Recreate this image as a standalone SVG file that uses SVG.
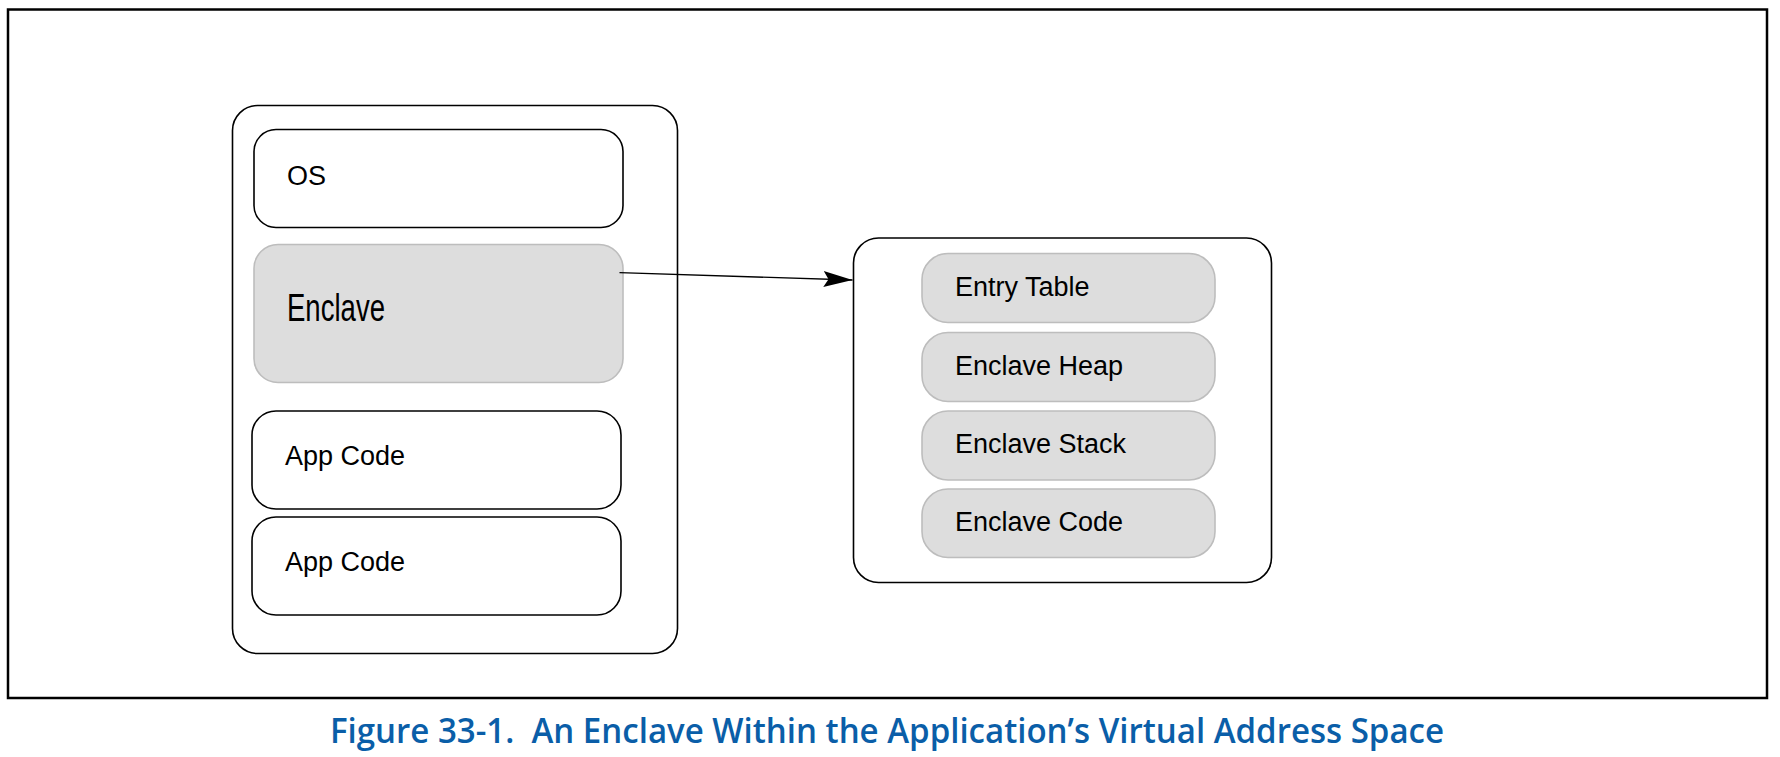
<svg xmlns="http://www.w3.org/2000/svg" width="1780" height="757" viewBox="0 0 1780 757">
<style>
.frame{fill:none;stroke:#000;stroke-width:2.5}
.box{fill:#fff;stroke:#000;stroke-width:1.6}
.gbox{fill:#dddddd;stroke:#bdbdbd;stroke-width:1.6}
.lbl{font-family:"Liberation Sans",Arial,sans-serif;font-size:27px;fill:#000}
.cap{font-family:"Open Sans","Liberation Sans",sans-serif;font-weight:600;font-size:34px;fill:#0a5ea8}
.conn{fill:none;stroke:#000;stroke-width:1.3}
</style>
<defs>
<marker id="arrow" markerUnits="userSpaceOnUse" markerWidth="30" markerHeight="18" viewBox="0 0 30 18" refX="29" refY="9" orient="auto">
<path d="M0,1 L29,9 L0,17 L5,9 Z" fill="#000"/>
</marker>
</defs>
<rect class="frame" x="8" y="9.5" width="1759" height="688.5"/>
<g id="app-space">
<rect class="box" x="232.5" y="105.5" width="445" height="548" rx="25"/>
</g>
<g id="os">
<rect class="box" x="254" y="129.5" width="369" height="98" rx="22"/>
<text class="lbl" x="287" y="185">OS</text>
</g>
<g id="enclave">
<rect class="gbox" x="254" y="244.5" width="369" height="138" rx="24"/>
<text class="lbl" x="287" y="321" style="font-size:38px" textLength="98" lengthAdjust="spacingAndGlyphs">Enclave</text>
</g>
<g id="app-code-1">
<rect class="box" x="252" y="411" width="369" height="98" rx="24"/>
<text class="lbl" x="285" y="465">App Code</text>
</g>
<g id="app-code-2">
<rect class="box" x="252" y="517" width="369" height="98" rx="24"/>
<text class="lbl" x="285" y="571">App Code</text>
</g>
<g id="enclave-detail">
<rect class="box" x="853.5" y="238" width="418" height="344.5" rx="25"/>
</g>
<g id="entry-table">
<rect class="gbox" x="922" y="253.5" width="293" height="69" rx="26"/>
<text class="lbl" x="955" y="296">Entry Table</text>
</g>
<g id="enclave-heap">
<rect class="gbox" x="922" y="332.5" width="293" height="69" rx="26"/>
<text class="lbl" x="955" y="375">Enclave Heap</text>
</g>
<g id="enclave-stack">
<rect class="gbox" x="922" y="411" width="293" height="69" rx="26"/>
<text class="lbl" x="955" y="452.5">Enclave Stack</text>
</g>
<g id="enclave-code">
<rect class="gbox" x="922" y="489" width="293" height="68.5" rx="26"/>
<text class="lbl" x="955" y="531">Enclave Code</text>
</g>
<g id="connectors">
<line class="conn" x1="619.5" y1="272.7" x2="852.5" y2="280" marker-end="url(#arrow)"/>
</g>
<text class="cap" x="330" y="743" xml:space="preserve" textLength="1114" lengthAdjust="spacingAndGlyphs">Figure 33-1.  An Enclave Within the Application’s Virtual Address Space</text>
</svg>
